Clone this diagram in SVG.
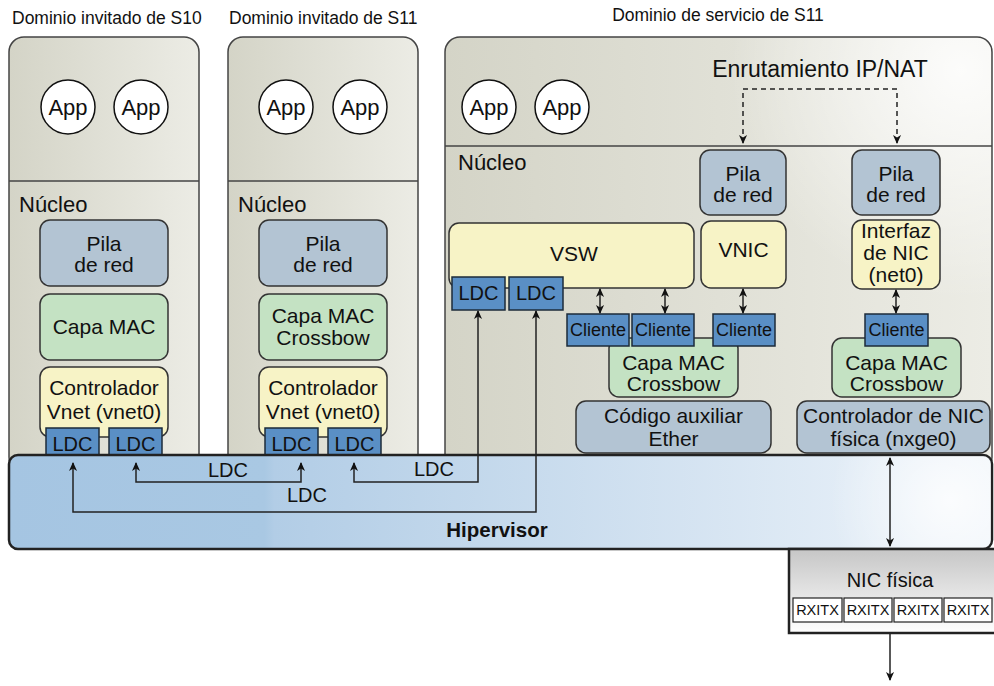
<svg xmlns="http://www.w3.org/2000/svg" width="994" height="686" viewBox="0 0 994 686">
<defs>
<style>
.t{font-family:"Liberation Sans",Arial,sans-serif;fill:#111}
.title{font-size:17.5px}
.nuc{font-size:22px}
.app{font-size:22px;text-anchor:middle}
.lbl{font-size:21px;text-anchor:middle}
.port-t{font-size:20px;text-anchor:middle}
.cli-t{font-size:18px;text-anchor:middle}
.rx-t{font-size:14.5px;text-anchor:middle}
.dom{stroke:#444;stroke-width:1.5}
.blue{fill:#b3c4d3;stroke:#333;stroke-width:1.5}
.green{fill:#c4e2c3;stroke:#333;stroke-width:1.5}
.yellow{fill:#f7f3c6;stroke:#333;stroke-width:1.5}
.port{fill:#5a8fc5;stroke:#1d2b3a;stroke-width:1.5}
.app-c{fill:#fff;stroke:#111;stroke-width:1.5}
.conn{fill:none;stroke:#222;stroke-width:1.5}
.rxb{fill:#fff;stroke:#222;stroke-width:1.2}
</style>
<linearGradient id="gDom" x1="0" y1="0" x2="1" y2="0">
<stop offset="0" stop-color="#d4d4c7"/>
<stop offset="1" stop-color="#ecece5"/>
</linearGradient>
<radialGradient id="gHi" cx="960" cy="70" r="230" gradientUnits="userSpaceOnUse">
<stop offset="0" stop-color="#ffffff" stop-opacity="0.85"/>
<stop offset="1" stop-color="#ffffff" stop-opacity="0"/>
</radialGradient>
<linearGradient id="gHyp" x1="9" y1="0" x2="992" y2="0" gradientUnits="userSpaceOnUse">
<stop offset="0" stop-color="#a5c5e2"/>
<stop offset="0.26" stop-color="#a9c8e3"/>
<stop offset="0.27" stop-color="#b2cde6"/>
<stop offset="1" stop-color="#eef4fa"/>
</linearGradient>
<radialGradient id="gHypHi" cx="950" cy="500" r="120" gradientUnits="userSpaceOnUse">
<stop offset="0" stop-color="#ffffff" stop-opacity="0.8"/>
<stop offset="1" stop-color="#ffffff" stop-opacity="0"/>
</radialGradient>
<linearGradient id="gNic" x1="0" y1="0" x2="0" y2="1">
<stop offset="0" stop-color="#c6c6c6"/>
<stop offset="1" stop-color="#ffffff"/>
</linearGradient>
<marker id="ah" viewBox="0 0 10 10" refX="9" refY="5" markerWidth="10" markerHeight="9" markerUnits="userSpaceOnUse" orient="auto-start-reverse">
<path d="M0,0.5 L10,5 L0,9.5 L3,5 z" fill="#111"/>
</marker>
</defs>
<rect width="994" height="686" fill="#fff"/>

<!-- Domain S10 -->
<g id="dom-s10">
<text class="t title" x="12" y="24">Dominio invitado de S10</text>
<rect class="dom" x="9" y="37" width="190" height="435" rx="15" fill="url(#gDom)"/>
<line class="dom" x1="9" y1="181" x2="199" y2="181"/>
<text class="t nuc" x="19" y="212">Núcleo</text>
</g>
<g id="s10-app1"><circle class="app-c" cx="68" cy="107" r="27"/><text class="t app" x="68" y="115">App</text></g>
<g id="s10-app2"><circle class="app-c" cx="141" cy="107" r="27"/><text class="t app" x="141" y="115">App</text></g>
<g id="s10-pila"><rect class="blue" x="40" y="220" width="128" height="66" rx="10"/><text class="t lbl" x="104" y="251">Pila</text><text class="t lbl" x="104" y="272">de red</text></g>
<g id="s10-mac"><rect class="green" x="40" y="294" width="128" height="66" rx="10"/><text class="t lbl" x="104" y="334">Capa MAC</text></g>
<g id="s10-vnet"><rect class="yellow" x="40" y="367" width="128" height="70" rx="10"/><text class="t lbl" x="104" y="395">Controlador</text><text class="t lbl" x="104" y="419">Vnet (vnet0)</text></g>
<g id="s10-ldc1"><rect class="port" x="46" y="428" width="53" height="33"/><text class="t port-t" x="72.5" y="451">LDC</text></g>
<g id="s10-ldc2"><rect class="port" x="109" y="428" width="53" height="33"/><text class="t port-t" x="135.5" y="451">LDC</text></g>

<!-- Domain S11 guest -->
<g id="dom-s11">
<text class="t title" x="229" y="24">Dominio invitado de S11</text>
<rect class="dom" x="228" y="37" width="190" height="435" rx="15" fill="url(#gDom)"/>
<line class="dom" x1="228" y1="181" x2="418" y2="181"/>
<text class="t nuc" x="238" y="212">Núcleo</text>
</g>
<g id="s11-app1"><circle class="app-c" cx="286" cy="107" r="27"/><text class="t app" x="286" y="115">App</text></g>
<g id="s11-app2"><circle class="app-c" cx="360" cy="107" r="27"/><text class="t app" x="360" y="115">App</text></g>
<g id="s11-pila"><rect class="blue" x="259" y="220" width="128" height="66" rx="10"/><text class="t lbl" x="323" y="251">Pila</text><text class="t lbl" x="323" y="272">de red</text></g>
<g id="s11-mac"><rect class="green" x="259" y="294" width="128" height="66" rx="10"/><text class="t lbl" x="323" y="323">Capa MAC</text><text class="t lbl" x="323" y="345">Crossbow</text></g>
<g id="s11-vnet"><rect class="yellow" x="259" y="367" width="128" height="70" rx="10"/><text class="t lbl" x="323" y="395">Controlador</text><text class="t lbl" x="323" y="419">Vnet (vnet0)</text></g>
<g id="s11-ldc1"><rect class="port" x="265" y="428" width="53" height="33"/><text class="t port-t" x="291.5" y="451">LDC</text></g>
<g id="s11-ldc2"><rect class="port" x="328" y="428" width="53" height="33"/><text class="t port-t" x="354.5" y="451">LDC</text></g>

<!-- Service domain -->
<g id="dom-svc">
<text class="t title" x="718" y="21" text-anchor="middle">Dominio de servicio de S11</text>
<rect class="dom" x="445" y="37" width="547" height="435" rx="15" fill="url(#gDom)"/>
<rect x="446" y="38" width="545" height="433" rx="14" fill="url(#gHi)"/>
<line class="dom" x1="445" y1="146" x2="992" y2="146"/>
<text class="t nuc" x="458" y="170">Núcleo</text>
<text class="t" x="820" y="77" font-size="23" text-anchor="middle">Enrutamiento IP/NAT</text>
</g>
<g id="svc-app1"><circle class="app-c" cx="489" cy="107" r="27"/><text class="t app" x="489" y="115">App</text></g>
<g id="svc-app2"><circle class="app-c" cx="562" cy="107" r="27"/><text class="t app" x="562" y="115">App</text></g>
<g id="svc-pila1"><rect class="blue" x="700" y="150" width="86" height="65" rx="10"/><text class="t lbl" x="743" y="181">Pila</text><text class="t lbl" x="743" y="202">de red</text></g>
<g id="svc-pila2"><rect class="blue" x="852" y="150" width="88" height="65" rx="10"/><text class="t lbl" x="896" y="181">Pila</text><text class="t lbl" x="896" y="202">de red</text></g>
<g id="svc-vsw"><rect class="yellow" x="449" y="223" width="245" height="65" rx="10"/><text class="t lbl" x="574" y="261">VSW</text></g>
<g id="svc-vnic"><rect class="yellow" x="701" y="221" width="85" height="67" rx="10"/><text class="t lbl" x="743.5" y="257">VNIC</text></g>
<g id="svc-net0"><rect class="yellow" x="852" y="220" width="88" height="69" rx="10"/><text class="t lbl" x="896" y="238" font-size="19.5">Interfaz</text><text class="t lbl" x="896" y="260" font-size="19.5">de NIC</text><text class="t lbl" x="896" y="282" font-size="19.5">(net0)</text></g>
<g id="svc-ldc1"><rect class="port" x="452" y="277" width="53" height="33"/><text class="t port-t" x="478.5" y="300">LDC</text></g>
<g id="svc-ldc2"><rect class="port" x="509" y="277" width="54" height="33"/><text class="t port-t" x="536" y="300">LDC</text></g>
<g id="svc-mac1"><rect class="green" x="609" y="338" width="129" height="59" rx="10"/><text class="t lbl" x="673.5" y="370">Capa MAC</text><text class="t lbl" x="673.5" y="391">Crossbow</text></g>
<g id="svc-mac2"><rect class="green" x="832" y="338" width="129" height="59" rx="10"/><text class="t lbl" x="896.5" y="370">Capa MAC</text><text class="t lbl" x="896.5" y="391">Crossbow</text></g>
<g id="svc-cli1"><rect class="port" x="567" y="314" width="62" height="32"/><text class="t cli-t" x="598" y="336">Cliente</text></g>
<g id="svc-cli2"><rect class="port" x="632" y="314" width="62" height="32"/><text class="t cli-t" x="663" y="336">Cliente</text></g>
<g id="svc-cli3"><rect class="port" x="713" y="314" width="62" height="32"/><text class="t cli-t" x="744" y="336">Cliente</text></g>
<g id="svc-cli4"><rect class="port" x="865" y="314" width="63" height="32"/><text class="t cli-t" x="896.5" y="336">Cliente</text></g>
<g id="svc-ether"><rect class="blue" x="576" y="401" width="195" height="52" rx="10"/><text class="t lbl" x="673.5" y="423">Código auxiliar</text><text class="t lbl" x="673.5" y="446">Ether</text></g>
<g id="svc-nxge"><rect class="blue" x="797" y="401" width="193" height="52" rx="10"/><text class="t lbl" x="893.5" y="423">Controlador de NIC</text><text class="t lbl" x="893.5" y="446">física (nxge0)</text></g>

<!-- Hypervisor -->
<g id="hypervisor">
<rect x="9" y="455" width="983" height="94" rx="9" fill="url(#gHyp)" stroke="#222" stroke-width="2.5"/>
<rect x="10" y="456" width="981" height="92" rx="8" fill="url(#gHypHi)"/>
<text class="t" x="497" y="537" font-size="20.5" font-weight="bold" text-anchor="middle">Hipervisor</text>
</g>

<!-- NIC fisica -->
<g id="nic">
<rect x="789" y="549" width="215" height="84" fill="url(#gNic)" stroke="#222" stroke-width="2.5"/>
<text class="t" x="890" y="587" font-size="20" text-anchor="middle">NIC física</text>
<rect class="rxb" x="793" y="598" width="49" height="24"/><text class="t rx-t" x="817.5" y="615">RXITX</text>
<rect class="rxb" x="844" y="598" width="48" height="24"/><text class="t rx-t" x="868" y="615">RXITX</text>
<rect class="rxb" x="894" y="598" width="48" height="24"/><text class="t rx-t" x="918" y="615">RXITX</text>
<rect class="rxb" x="944" y="598" width="48" height="24"/><text class="t rx-t" x="968" y="615">RXITX</text>
</g>

<!-- Connectors -->
<g id="connectors">
<path class="conn" d="M820,89 H743 V143" stroke-dasharray="5,4" marker-end="url(#ah)"/>
<path class="conn" d="M820,89 H897 V143" stroke-dasharray="5,4" marker-end="url(#ah)"/>
<path class="conn" d="M73,463 V512 H536 V311" marker-start="url(#ah)" marker-end="url(#ah)"/>
<path class="conn" d="M136,463 V482 H301 V463" marker-start="url(#ah)" marker-end="url(#ah)"/>
<path class="conn" d="M354,463 V482 H478 V311" marker-start="url(#ah)" marker-end="url(#ah)"/>
<path class="conn" d="M600,289 V313" marker-start="url(#ah)" marker-end="url(#ah)"/>
<path class="conn" d="M665,289 V313" marker-start="url(#ah)" marker-end="url(#ah)"/>
<path class="conn" d="M743,289 V313" marker-start="url(#ah)" marker-end="url(#ah)"/>
<path class="conn" d="M896,290 V313" marker-start="url(#ah)" marker-end="url(#ah)"/>
<path class="conn" d="M890,458 V546" marker-start="url(#ah)" marker-end="url(#ah)"/>
<path class="conn" d="M890,634 V680" marker-end="url(#ah)"/>
<text class="t" x="228" y="477" font-size="20" text-anchor="middle">LDC</text>
<text class="t" x="307" y="502" font-size="20" text-anchor="middle">LDC</text>
<text class="t" x="434" y="476" font-size="20" text-anchor="middle">LDC</text>
</g>
</svg>
